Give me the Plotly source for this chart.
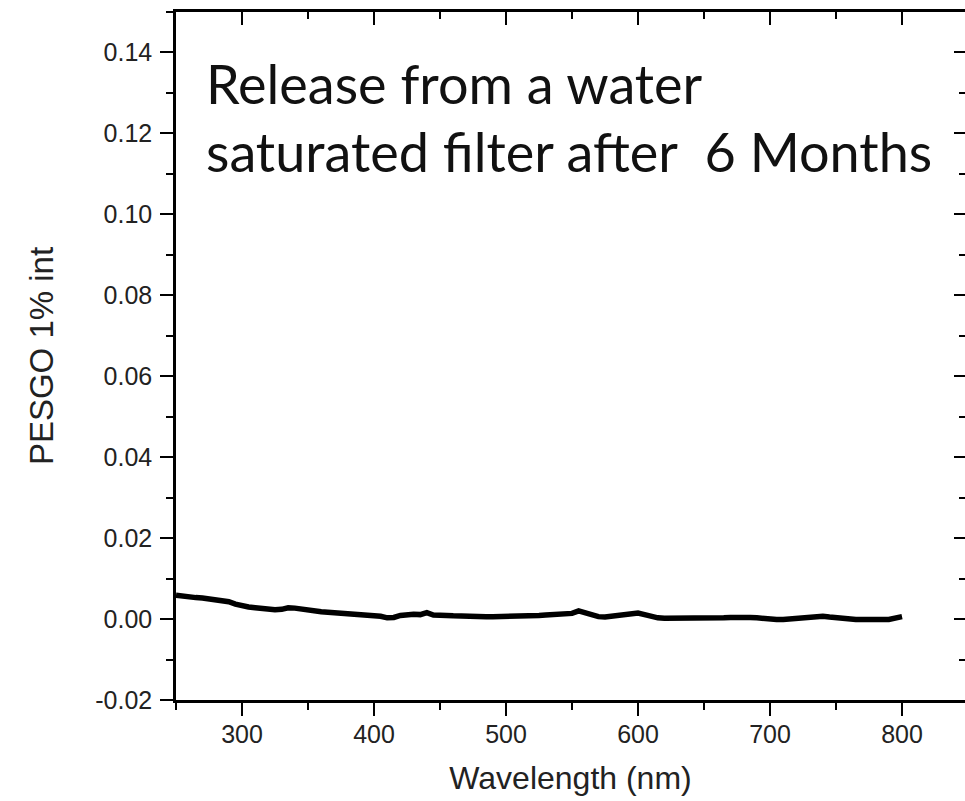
import plotly.graph_objects as go

wavelength = [250, 255, 260, 265, 270, 275, 280, 285, 290, 295,
              300, 305, 310, 315, 320, 325, 330, 335, 340, 345,
              350, 355, 360, 365, 370, 375, 380, 385, 390, 395,
              400, 405, 410, 415, 420, 425, 430, 435, 440, 445,
              450, 455, 460, 465, 470, 475, 480, 485, 490, 495,
              500, 505, 510, 515, 520, 525, 530, 535, 540, 545,
              550, 555, 560, 565, 570, 575, 580, 585, 590, 595,
              600, 605, 610, 615, 620, 625, 630, 635, 640, 645,
              650, 655, 660, 665, 670, 675, 680, 685, 690, 695,
              700, 705, 710, 715, 720, 725, 730, 735, 740, 745,
              750, 755, 760, 765, 770, 775, 780, 785, 790, 795, 800]
intensity = [0.0059, 0.0056, 0.0055, 0.0053, 0.0052, 0.0050, 0.0048, 0.0046, 0.0043, 0.0037,
             0.0032, 0.0030, 0.0028, 0.0026, 0.0023, 0.0023, 0.0024, 0.0028, 0.0027, 0.0024,
             0.0022, 0.0020, 0.0018, 0.0017, 0.0016, 0.0015, 0.0014, 0.0014, 0.0013, 0.0012,
             0.0011, 0.0007, 0.0003, 0.0004, 0.0009, 0.0011, 0.0012, 0.0011, 0.0016, 0.0010,
             0.0008, 0.0009, 0.0008, 0.0007, 0.0007, 0.0006, 0.0006, 0.0006, 0.0006, 0.0006,
             0.0007, 0.0008, 0.0008, 0.0008, 0.0009, 0.0009, 0.0010, 0.0011, 0.0012, 0.0013,
             0.0014, 0.0020, 0.0015, 0.0010, 0.0006, 0.0005, 0.0007, 0.0010, 0.0014, 0.0016,
             0.0015, 0.0011, 0.0006, 0.0003, 0.0002, 0.0002, 0.0001, 0.0001, 0.0002, 0.0001,
             0.0000, 0.0001, 0.0002, 0.0003, 0.0004, 0.0005, 0.0005, 0.0004, 0.0003, 0.0001,
             0.0000, -0.0001, -0.0001, 0.0000, 0.0001, 0.0003, 0.0005, 0.0007, 0.0007, 0.0005,
             0.0003, 0.0001, 0.0000, -0.0001, -0.0001, 0.0000, 0.0000, -0.0001, -0.0001, 0.0002, 0.0006]

x_range = [250, 847.7]
y_range = [-0.02, 0.15]
y_tickvals = [-0.02, 0.00, 0.02, 0.04, 0.06, 0.08, 0.10, 0.12, 0.14]
y_ticktext = ["-0.02", "0.00", "0.02", "0.04", "0.06", "0.08", "0.10", "0.12", "0.14"]
x_title = "Wavelength (nm)"
y_title = "PESGO 1% int"
note_lines = ["Release from a water", "saturated filter after  6 Months"]

fig = go.Figure()
fig.add_trace(go.Scatter(x=wavelength, y=intensity, mode="lines",
                         line=dict(color="black", width=5.5),
                         showlegend=False, hoverinfo="skip"))
fig.add_trace(go.Scatter(x=[None], y=[None], xaxis="x2", yaxis="y2",
                         showlegend=False, hoverinfo="skip"))

tickfont = dict(family="Liberation Sans, Arial", size=25, color="#222")
fig.update_layout(
    width=965, height=801,
    margin=dict(l=176, r=0, t=12, b=101),
    paper_bgcolor="white", plot_bgcolor="white",
    font=dict(family="Liberation Sans, Arial", color="#222"),
    xaxis=dict(range=x_range, showgrid=False, zeroline=False,
               showline=True, linecolor="black", linewidth=2.5,
               ticks="outside", ticklen=13, tickwidth=2, tickcolor="black",
               tick0=0, dtick=100, tickfont=tickfont, ticklabelstandoff=-3,
               minor=dict(ticks="outside", ticklen=7, tickwidth=2, tickcolor="black", dtick=50, tick0=0),
               title=dict(text=x_title, font=dict(size=32, color="#222"), standoff=20)),
    yaxis=dict(range=y_range, showgrid=False, zeroline=False,
               showline=True, linecolor="black", linewidth=2.5,
               ticks="outside", ticklen=13, tickwidth=2, tickcolor="black",
               tickmode="array", tickvals=y_tickvals, ticktext=y_ticktext,
               tickfont=tickfont, ticklabelstandoff=3,
               minor=dict(ticks="outside", ticklen=7, tickwidth=2, tickcolor="black", dtick=0.01, tick0=0),
               title=dict(text=y_title, font=dict(size=33, color="#222"), standoff=32)),
    xaxis2=dict(range=x_range, overlaying="x", side="top", anchor="y",
                showgrid=False, zeroline=False, showticklabels=False,
                showline=True, linecolor="black", linewidth=2.5,
                ticks="inside", ticklen=13, tickwidth=2, tickcolor="black",
                tick0=0, dtick=100,
                minor=dict(ticks="inside", ticklen=7, tickwidth=2, tickcolor="black", dtick=50, tick0=0)),
    yaxis2=dict(range=y_range, overlaying="y", side="right", anchor="x",
                showgrid=False, zeroline=False, showticklabels=False,
                showline=False,
                ticks="inside", ticklen=11, tickwidth=2, tickcolor="black",
                tick0=0, dtick=0.02,
                minor=dict(ticks="inside", ticklen=6, tickwidth=2, tickcolor="black", dtick=0.01, tick0=0)),
    annotations=[
        dict(text=note_lines[0], xref="paper", yref="paper",
             x=0.036, y=0.896, xanchor="left", yanchor="middle",
             align="left", showarrow=False,
             font=dict(family="Lato", size=54, color="#111")),
        dict(text=note_lines[1], xref="paper", yref="paper",
             x=0.036, y=0.797, xanchor="left", yanchor="middle",
             align="left", showarrow=False,
             font=dict(family="Lato", size=54, color="#111")),
    ],
)

fig.write_html("out.html",
               config={"displayModeBar": False},
               post_script="document.body.style.margin='0';document.body.style.overflow='hidden';")
